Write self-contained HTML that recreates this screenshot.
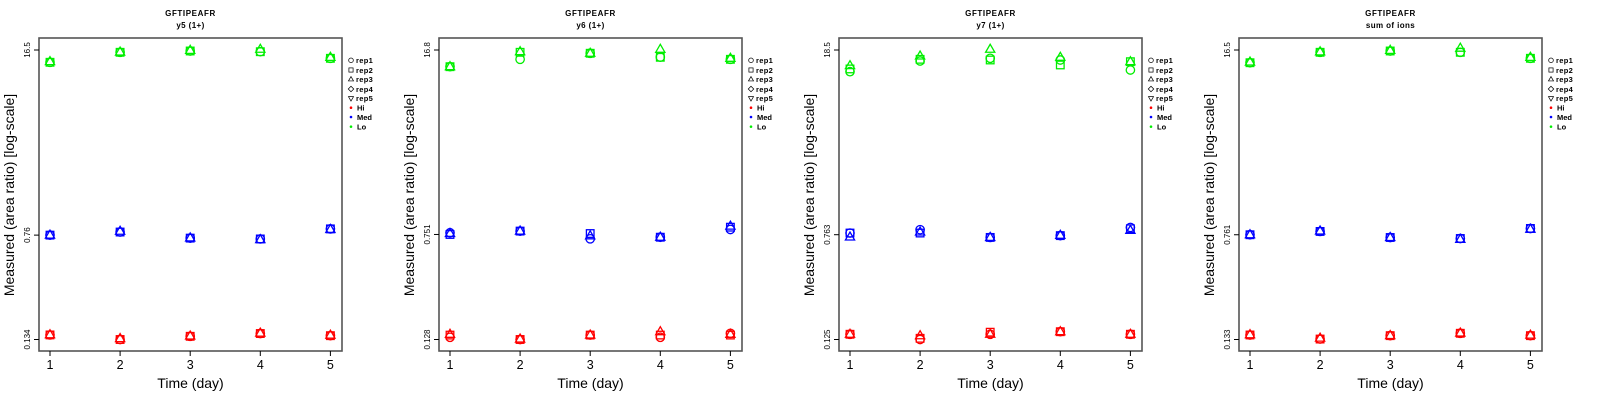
<!DOCTYPE html>
<html><head><meta charset="utf-8"><style>
body{margin:0;background:#fff}
svg{display:block;font-family:"Liberation Sans",sans-serif}
</style></head><body>
<svg id="chart" width="1600" height="400" viewBox="0 0 1600 400"></svg>
<script>
// ---- data ----
const days = [1,2,3,4,5];
const panelTitles = ["GFTIPEAFR","GFTIPEAFR","GFTIPEAFR","GFTIPEAFR"];
const panelSubtitles = ["y5 (1+)","y6 (1+)","y7 (1+)","sum of ions"];
const tickTop = [16.5,16.8,18.5,16.5];
const tickMid = [0.76,0.751,0.763,0.761];
const tickBot = [0.134,0.128,0.125,0.133];
const repNames = ["rep1","rep2","rep3","rep4","rep5"];
const groupNames = ["Hi","Med","Lo"];
const groupColors = ["#ff0000","#0000ff","#00ee00"];
// values[panel][group][rep][day] (rep1..rep3 visible)
const p1Lo = [[13.45,15.88,16.23,16.04,14.37],[13.45,15.88,16.23,16.04,14.37],[13.6,15.95,16.4,16.7,14.6]];
const p1Med = [[0.76,0.80,0.723,0.713,0.843],[0.76,0.80,0.723,0.713,0.843],[0.76,0.81,0.725,0.705,0.835]];
const p1Hi = [[0.1446,0.134,0.1413,0.148,0.1428],[0.1446,0.134,0.1413,0.148,0.1428],[0.145,0.136,0.142,0.149,0.144]];
const p2Lo = [[12.68,14.36,15.9,14.9,14.36],[12.68,16.16,15.9,14.86,14.36],[12.68,16.33,15.9,17.0,14.6]];
const p2Med = [[0.773,0.795,0.698,0.717,0.817],[0.751,0.795,0.763,0.717,0.849],[0.764,0.795,0.734,0.717,0.864]];
const p2Hi = [[0.1329,0.128,0.1379,0.1329,0.142],[0.1379,0.128,0.1379,0.1379,0.1379],[0.1397,0.129,0.1379,0.146,0.1397]];
const p3Lo = [[12.73,15.3,16.03,15.57,13.1],[13.34,15.75,15.57,14.29,15.12],[14.12,16.68,18.74,16.32,15.12]];
const p3Med = [[0.785,0.832,0.728,0.751,0.865],[0.785,0.785,0.728,0.751,0.846],[0.733,0.799,0.728,0.755,0.822]];
const p3Hi = [[0.1368,0.125,0.1368,0.143,0.1368],[0.1368,0.1276,0.1418,0.143,0.1368],[0.1368,0.1334,0.1368,0.143,0.1368]];
const p4Lo = [[13.35,15.88,16.23,15.88,14.37],[13.35,15.88,16.23,15.88,14.37],[13.5,16.0,16.4,17.0,14.6]];
const p4Med = [[0.761,0.804,0.727,0.715,0.845],[0.761,0.804,0.727,0.715,0.845],[0.761,0.81,0.727,0.705,0.835]];
const p4Hi = [[0.1434,0.134,0.1418,0.1475,0.1418],[0.1434,0.134,0.1418,0.1475,0.1418],[0.144,0.136,0.142,0.148,0.143]];
const panelData = [[p1Hi,p1Med,p1Lo],[p2Hi,p2Med,p2Lo],[p3Hi,p3Med,p3Lo],[p4Hi,p4Med,p4Lo]];

// ---- drawing ----
const NS="http://www.w3.org/2000/svg";
const svg=document.getElementById('chart');
function mk(tag,attrs,parent,text){const e=document.createElementNS(NS,tag);for(const k in attrs)e.setAttribute(k,attrs[k]);if(text!==undefined)e.textContent=text;(parent||svg).appendChild(e);return e;}
function shape(g,rep,x,y,c){
  let e;
  if(rep===0) e=mk('circle',{cx:x,cy:y,r:4.2,fill:'none',stroke:c,'stroke-width':1.3},g);
  else if(rep===1) e=mk('rect',{x:x-3.8,y:y-3.8,width:7.6,height:7.6,fill:'none',stroke:c,'stroke-width':1.3},g);
  else if(rep===2) e=mk('polygon',{points:`${x},${y-5} ${x-4.6},${y+3} ${x+4.6},${y+3}`,fill:'none',stroke:c,'stroke-width':1.3},g);
  else if(rep===3) e=mk('polygon',{points:`${x},${y-5} ${x+5},${y} ${x},${y+5} ${x-5},${y}`,fill:'none',stroke:c,'stroke-width':1.3},g);
  else e=mk('polygon',{points:`${x},${y+5} ${x-4.6},${y-3} ${x+4.6},${y-3}`,fill:'none',stroke:c,'stroke-width':1.3},g);
  return e;
}
for(let p=0;p<4;p++){
  const ox=p*400;
  const L=ox+39,R=ox+342,T=38,B=351;
  const yTop=50,yBot=339.5;
  const lt=Math.log10(tickTop[p]),lb=Math.log10(tickBot[p]);
  const yS=v=>yTop+(lt-Math.log10(v))/(lt-lb)*(yBot-yTop);
  const xS=d=>ox+50+(d-1)*70.1;
  const g=mk('g',{});
  
  
  const t1=mk('text',{x:(L+R)/2,y:16,'text-anchor':'middle','font-size':8,'font-weight':'bold','letter-spacing':'0.6'},g,panelTitles[p]);
  
  
  const t2=mk('text',{x:(L+R)/2,y:28,'text-anchor':'middle','font-size':8,'font-weight':'bold','letter-spacing':'0.4'},g,panelSubtitles[p]);
  
  
  const box=mk('rect',{x:L,y:T,width:R-L,height:B-T,fill:'none',stroke:'#555','stroke-width':1.6},g);
  
  
  // x axis
  days.forEach(d=>{
    const x=xS(d);
    mk('line',{x1:x,y1:B,x2:x,y2:B+5,stroke:'#000','stroke-width':1},g);
    const tl=mk('text',{x:x,y:369,'text-anchor':'middle','font-size':12.5},g,String(d));
    
    
  });
  const xl=mk('text',{x:(L+R)/2,y:388,'text-anchor':'middle','font-size':14},g,'Time (day)');
  
  
  // y axis
  [tickTop[p],tickMid[p],tickBot[p]].forEach(v=>{
    const y=yS(v);
    mk('line',{x1:L-5,y1:y,x2:L,y2:y,stroke:'#000','stroke-width':1},g);
    const tl=mk('text',{x:0,y:0,'text-anchor':'middle','font-size':8,transform:`translate(${L-9},${y}) rotate(-90)`},g,String(v));
    
    
  });
  const yl=mk('text',{x:0,y:0,'text-anchor':'middle','font-size':14,transform:`translate(${ox+14},${195}) rotate(-90)`},g,'Measured (area ratio) [log-scale]');
  
  
  // points
  panelData[p].forEach((grp,gi)=>{
    grp.forEach((reps,ri)=>{
      reps.forEach((v,di)=>{
        const m=shape(g,ri,xS(days[di]),yS(v),groupColors[gi]);
        
        
      });
    });
  });
  // legend
  const lg=mk('g',{},g);
  
  
  const rowY=[60.3,70,79.3,89,98.3,107.7,117,126.7];
  repNames.forEach((n,i)=>{
    const y=rowY[i];
    const sg=mk('g',{transform:`translate(${ox+351},${y}) scale(0.55)`},lg);
    shape(sg,i,0,0,'#000');
    const t=mk('text',{x:ox+356,y:y+2.8,'font-size':7.5,'font-weight':'bold','letter-spacing':'0.3'},lg,n);
    
    
  });
  groupNames.forEach((n,i)=>{
    const y=rowY[5+i];
    mk('circle',{cx:ox+351,cy:y,r:1.3,fill:groupColors[i]},lg);
    const t=mk('text',{x:ox+357,y:y+2.8,'font-size':7.5,'font-weight':'bold'},lg,n);
    
    
  });
}
</script>
</body></html>
